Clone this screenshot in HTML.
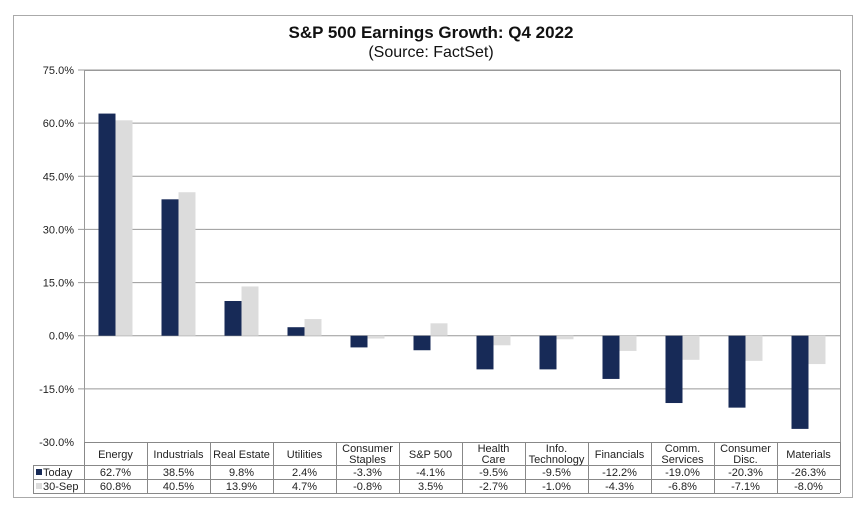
<!DOCTYPE html>
<html><head><meta charset="utf-8"><style>
body{margin:0;background:#fff;width:862px;height:504px;overflow:hidden;font-family:"Liberation Sans",Arial,sans-serif}
svg text{font-family:"Liberation Sans",Arial,sans-serif}
</style></head><body>
<svg id="c" width="862" height="504"></svg>
<script>
const categories=[["Energy"],["Industrials"],["Real Estate"],["Utilities"],["Consumer","Staples"],["S&P 500"],["Health","Care"],["Info.","Technology"],["Financials"],["Comm.","Services"],["Consumer","Disc."],["Materials"]];
const todayVals=[62.7,38.5,9.8,2.4,-3.3,-4.1,-9.5,-9.5,-12.2,-19.0,-20.3,-26.3];
const sepVals=[60.8,40.5,13.9,4.7,-0.8,3.5,-2.7,-1.0,-4.3,-6.8,-7.1,-8.0];
const yTicks=[75,60,45,30,15,0,-15,-30];
const NS="http://www.w3.org/2000/svg";
const svg=document.getElementById('c');
function el(t,a,txt){const e=document.createElementNS(NS,t);for(const k in a)e.setAttribute(k,a[k]);if(txt!==undefined)e.textContent=txt;svg.appendChild(e);return e;}
const L=84,R=840,T=70,B=442;
const y=v=>T+(75-v)*(B-T)/105;
const cw=(R-L)/categories.length;
const x=i=>L+i*cw;
let e;
e=el('rect',{x:13.5,y:15.5,width:839,height:482,fill:'none',stroke:'#aaa'});


e=el('text',{x:431,y:38,'text-anchor':'middle','font-size':17,'font-weight':'bold',fill:'#111'},'S&P 500 Earnings Growth: Q4 2022');


e=el('text',{x:431,y:57,'text-anchor':'middle','font-size':16,fill:'#111'},'(Source: FactSet)');


yTicks.forEach(t=>{
 if(t!==-30){e=el('line',{x1:L-6,x2:R,y1:y(t),y2:y(t),stroke:'#999','stroke-width':1});
 
 }
 e=el('text',{x:74,y:y(t)+4,'text-anchor':'end','font-size':11,fill:'#222'},t.toFixed(1)+'%');
 
 
});
e=el('rect',{x:L+0.5,y:T+0.5,width:R-L,height:B-T,fill:'none',stroke:'#999'});


const bw=17;
categories.forEach((c,i)=>{
 const cx=x(i)+cw/2;
 const a=todayVals[i],b=sepVals[i];
 e=el('rect',{x:cx-bw,y:Math.min(y(a),y(0)),width:bw,height:Math.abs(y(a)-y(0)),fill:'#172a57'});
 
 
 e=el('rect',{x:cx,y:Math.min(y(b),y(0)),width:bw,height:Math.abs(y(b)-y(0)),fill:'#dcdcdc'});
 
 
});
// table
const r0=442,r1=465,r2=479,r3=493;
[[L,R,r0],[33,R,r1],[33,R,r2],[33,R,r3]].forEach(([a,b2,yy])=>{e=el('line',{x1:a,x2:b2,y1:yy+0.5,y2:yy+0.5,stroke:'#888'});
 
 });
e=el('line',{x1:33.5,x2:33.5,y1:r1,y2:r3,stroke:'#888'});


for(let i=0;i<=categories.length;i++){e=el('line',{x1:x(i)+0.5,x2:x(i)+0.5,y1:r0,y2:r3,stroke:'#888'});
 
 }
categories.forEach((c,i)=>{
 const cx=x(i)+cw/2;
 c.forEach((ln,j)=>{const yy=c.length===1?458:452+j*11;
  e=el('text',{x:cx,y:yy,'text-anchor':'middle','font-size':11,fill:'#222'},ln);
  
  });
 e=el('text',{x:cx,y:476,'text-anchor':'middle','font-size':11,fill:'#222'},todayVals[i].toFixed(1)+'%');
 
 
 e=el('text',{x:cx,y:490,'text-anchor':'middle','font-size':11,fill:'#222'},sepVals[i].toFixed(1)+'%');
 
 
});
e=el('rect',{x:36,y:469,width:6,height:6,fill:'#172a57'});


e=el('text',{x:43,y:476,'font-size':11,fill:'#222'},'Today');


e=el('rect',{x:36,y:483,width:6,height:6,fill:'#dcdcdc'});


e=el('text',{x:43,y:490,'font-size':11,fill:'#222'},'30-Sep');


</script>
</body></html>
